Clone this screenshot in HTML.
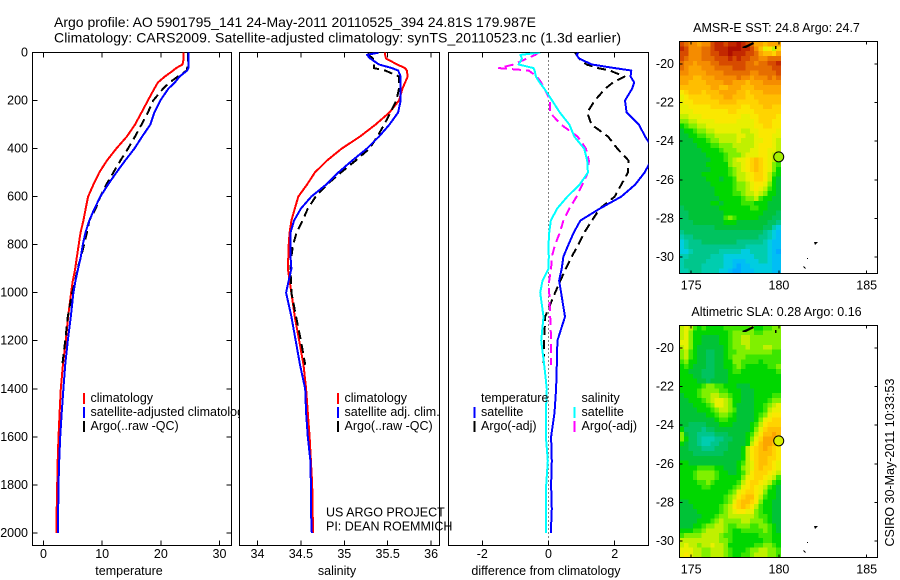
<!DOCTYPE html>
<html>
<head>
<meta charset="utf-8">
<title>Argo profile 5901795_141</title>
<style>
html,body{margin:0;padding:0;background:#fff;}
svg{display:block;}
text{font-family:"Liberation Sans",sans-serif;font-size:12.5px;fill:#000;}
text.title{font-size:14px;}
</style>
</head>
<body>
<svg id="chart" xmlns="http://www.w3.org/2000/svg" width="900" height="580" viewBox="0 0 900 580">
<rect x="0" y="0" width="900" height="580" fill="#fff"/>
<defs>
<clipPath id="clip-temp"><rect x="32.5" y="52.5" width="199" height="493"/></clipPath>
<clipPath id="clip-sal"><rect x="239.5" y="52.5" width="200" height="493"/></clipPath>
<clipPath id="clip-diff"><rect x="448.5" y="52.5" width="200" height="493"/></clipPath>
</defs>
<text class="title" x="54" y="27" textLength="482">Argo profile: AO 5901795_141 24-May-2011 20110525_394 24.81S 179.987E</text>
<text class="title" x="54" y="42.5" textLength="567">Climatology: CARS2009. Satellite-adjusted climatology: synTS_20110523.nc (1.3d earlier)</text>
<g id="panels"></g>
<g id="maps"></g>
<text x="326" y="516.5">US ARGO PROJECT</text>
<text x="326" y="530.5">PI: DEAN ROEMMICH</text>
<text transform="translate(894,546.5) rotate(-90)" x="0" y="0">CSIRO 30-May-2011 10:33:53</text>
</svg>
<script>
const depths=[0,10,25,50,65,75,100,125,150,200,250,300,350,400,450,500,550,600,650,700,750,800,850,900,950,1000,1100,1200,1300,1400,1500,1600,1700,1800,1900,2000];
const tempClimatology=[23.9,23.9,23.9,23.7,22.6,22.1,20.7,19.5,18.9,17.8,16.7,15.6,14.2,12.4,10.8,9.5,8.5,7.6,7.2,6.8,6.3,6.0,5.7,5.4,5.0,4.7,4.2,3.8,3.3,2.95,2.75,2.55,2.42,2.33,2.25,2.2];
const tempSatellite=[24.7,24.7,24.7,24.7,24.7,24.5,23.2,22.4,21.3,19.9,18.9,18.2,16.8,15.5,13.9,12.4,11.0,9.7,8.7,7.8,7.15,6.7,6.35,5.9,5.45,5.1,4.66,4.15,3.7,3.4,3.1,2.85,2.67,2.55,2.5,2.45];
const tempArgo=[24.6,24.6,24.6,24.6,24.5,24.4,22.9,21.5,20.4,18.7,17.8,16.7,15.6,14.4,13.1,11.9,10.7,9.7,8.9,7.8,7.4,6.9,6.4,5.8,5.4,4.9,4.15,3.7,3.2,null,null,null,null,null,null,null];
const salClimatology=[35.47,35.47,35.48,35.61,35.70,35.72,35.73,35.70,35.67,35.63,35.52,35.36,35.18,34.97,34.80,34.66,34.57,34.47,34.43,34.39,34.37,34.36,34.355,34.35,34.37,34.39,34.43,34.48,34.53,34.56,34.58,34.60,34.615,34.63,34.635,34.64];
const salSatellite=[35.40,35.26,35.30,35.40,35.55,35.62,35.65,35.65,35.65,35.65,35.62,35.52,35.40,35.26,35.09,34.93,34.79,34.62,34.50,34.42,34.38,34.38,34.38,34.39,34.36,34.33,34.39,34.44,34.49,34.55,34.56,34.58,34.61,34.615,34.615,34.625];
const salArgo=[35.28,35.28,35.33,35.34,35.34,35.47,35.63,35.63,35.63,35.60,35.53,35.46,35.38,35.29,35.13,34.96,34.80,34.67,34.58,34.52,34.45,34.41,34.39,34.38,34.385,34.39,34.445,34.50,34.55,null,null,null,null,null,null,null];
const diffTempSatellite=[0.90,0.85,0.92,1.31,2.0,2.5,2.48,2.59,2.53,2.31,2.36,2.73,2.92,3.15,3.1,2.9,2.62,2.2,1.55,0.96,0.76,0.60,0.45,0.40,0.32,0.38,0.5,0.27,0.25,0.23,0.18,0.08,0.1,0.08,0.1,0.07];
const diffTempArgo=[0.8,0.85,0.92,1.15,1.5,1.85,2.3,1.95,1.72,1.4,1.17,1.3,1.8,2.08,2.42,2.4,2.2,2.0,1.55,1.31,1.08,0.9,0.7,0.52,0.36,0.2,-0.1,-0.13,-0.15,null,null,null,null,null,null,null];
const diffSalSatellite=[-0.25,-0.85,-0.8,-0.9,-0.45,-0.42,-0.38,-0.27,-0.13,0.11,0.34,0.63,0.78,1.08,1.17,1.19,0.94,0.57,0.26,0.07,0.02,0,0.01,0,-0.18,-0.25,-0.15,-0.22,-0.13,-0.05,-0.08,-0.08,-0.02,-0.07,-0.07,-0.07];
const diffSalArgo=[-0.3,-0.4,-0.65,-1.05,-1.5,-0.6,-0.35,-0.22,-0.12,0.05,0.04,0.38,0.88,1.13,1.22,1.19,1.02,0.85,0.63,0.45,0.34,0.2,0.1,0.08,0.02,0.02,0.05,0.08,0.08,null,null,null,null,null,null,null];
const depthTicks=[0,200,400,600,800,1000,1200,1400,1600,1800,2000];
const tempTicks=[0,10,20,30];
const salTicks=[34,34.5,35,35.5,36];
const diffTicks=[-2,0,2];
const lonTicks=[175,180,185];
const latTicks=[-20,-22,-24,-26,-28,-30];
const argoLon=179.987;
const argoLat=-24.81;
const argoSstLevel=9.6;
const argoSlaLevel=10.6;
const sstGrid=[
[18,17,16,16,15,16,16,18,19,19,18,19,19,20,19,18,17,15,15,14,15,15,15],
[19,18,16,16,16,17,17,18,19,19,19,20,20,20,19,19,18,16,14,11,12,10,13],
[18,18,16,16,16,17,17,18,18,19,19,20,19,19,19,18,18,17,15,14,14,13,15],
[18,17,16,16,16,17,17,17,18,18,18,19,18,19,18,18,17,17,16,16,17,17,17],
[17,16,16,15,16,16,16,17,17,18,18,18,18,18,18,17,17,16,17,17,18,18,19],
[17,16,15,15,15,16,16,16,17,17,17,17,18,18,18,17,17,17,17,17,17,18,18],
[16,16,15,15,15,15,16,16,16,16,17,17,17,17,17,17,16,16,17,17,17,17,18],
[15,15,15,14,14,15,15,15,16,16,16,16,16,17,16,16,15,16,16,16,17,16,17],
[15,15,14,14,14,14,15,15,15,15,16,16,15,15,15,14,15,15,15,16,16,16,16],
[14,14,14,14,14,14,14,15,15,14,14,15,15,15,14,14,14,15,15,15,15,15,15],
[12,13,14,14,14,13,14,14,14,15,15,15,15,14,14,13,14,14,14,15,15,15,15],
[11,12,13,13,13,13,13,14,14,14,15,15,14,14,14,13,13,14,14,14,14,14,14],
[11,12,12,13,13,13,13,13,13,14,14,14,14,13,13,13,13,13,14,14,14,14,14],
[11,11,12,12,12,12,12,13,13,13,13,13,13,13,12,12,13,13,13,14,14,13,13],
[11,11,11,12,12,12,12,12,12,12,12,13,13,12,12,12,12,13,13,13,13,13,13],
[10,10,11,11,11,12,12,12,12,12,12,12,12,12,11,11,12,12,13,13,13,13,12],
[9,9,10,10,11,11,11,11,12,12,12,12,12,11,11,11,11,12,13,13,13,12,12],
[7,8,9,9,10,10,11,11,11,11,11,11,11,11,11,11,11,12,12,13,13,12,12],
[6,7,7,8,9,9,10,10,11,11,11,11,11,11,10,10,11,11,12,12,12,12,11],
[6,6,7,7,8,8,9,9,10,10,10,10,10,11,11,10,10,11,12,12,12,11,11],
[6,6,6,7,7,7,8,9,9,10,10,10,10,11,10,10,10,11,11,12,12,11,10],
[6,6,6,6,7,7,7,8,8,9,9,9,10,10,10,10,10,11,12,12,12,11,10],
[6,6,6,6,6,7,7,7,7,8,9,9,9,10,10,10,11,11,12,12,11,11,10],
[6,6,6,6,6,6,7,7,7,7,8,9,9,9,10,11,11,11,12,12,11,10,9],
[6,6,6,6,6,6,6,7,7,7,8,9,10,11,11,12,13,14,13,12,11,10,9],
[6,6,6,6,6,6,7,7,7,7,7,9,10,10,11,12,13,14,13,12,11,9,8],
[6,6,6,6,6,6,6,7,7,7,7,8,9,10,11,12,13,14,13,12,11,9,7],
[6,6,6,6,6,7,7,7,7,7,7,8,9,10,10,11,12,13,13,12,10,8,7],
[6,6,6,6,6,6,7,7,7,6,7,7,8,10,10,11,12,13,13,12,10,7,6],
[6,6,6,6,6,6,6,7,7,7,7,7,8,9,9,10,11,12,12,11,9,7,6],
[6,6,6,6,6,6,6,6,7,7,7,7,8,9,9,10,11,12,11,10,8,7,6],
[6,6,6,6,6,6,6,6,7,7,7,7,8,8,9,10,10,11,10,9,7,7,6],
[6,6,6,6,6,6,6,6,6,7,7,7,7,7,8,9,9,10,8,7,7,6,6],
[6,6,6,6,6,6,6,7,7,6,7,7,7,7,8,8,8,7,7,7,6,6,6],
[5,6,6,6,6,6,6,6,6,7,7,7,7,7,7,7,8,8,7,7,6,6,6],
[5,5,6,6,6,6,6,6,6,6,7,7,7,7,7,7,7,7,7,6,6,6,5],
[5,5,6,6,6,6,6,6,6,6,8,9,8,7,7,7,7,7,6,6,6,5,5],
[5,5,5,6,6,6,6,6,6,6,7,7,7,6,6,6,6,6,6,6,5,5,4],
[5,5,5,5,5,5,5,5,6,6,6,6,6,6,6,6,6,6,6,5,5,3,2],
[4,5,5,5,5,5,5,5,5,5,5,5,5,5,5,5,5,5,5,4,3,2,1],
[3,4,4,5,5,5,5,5,5,5,5,5,5,5,5,5,5,5,4,4,3,2,1],
[2,3,4,4,4,5,5,5,5,5,5,5,5,4,4,4,4,4,4,3,2,1,1],
[2,3,4,4,4,4,4,4,4,4,4,4,4,4,4,3,3,3,3,3,2,1,1],
[2,2,3,4,4,4,4,4,4,3,3,3,3,3,2,2,3,3,3,3,2,1,0],
[3,3,4,4,4,4,4,3,3,3,2,2,2,2,2,2,2,3,3,3,2,1,1],
[3,4,4,4,4,4,3,3,3,3,2,2,1,1,1,2,2,2,3,3,2,1,1],
[3,4,4,4,4,3,3,3,3,3,2,2,1,0,1,1,2,2,2,2,2,1,1],
[3,3,4,4,4,3,3,3,3,2,2,1,0,0,1,1,1,2,2,2,2,1,1]
];
const slaGrid=[
[10,11,10,8,7,8,7,7,7,7,8,8,8,8,8,8,9,7,7,8,8,9,9],
[10,11,9,7,7,7,7,7,7,7,7,8,9,9,9,9,9,8,8,9,9,9,9],
[10,11,9,7,7,6,6,6,6,7,7,8,9,9,10,10,9,9,9,9,9,9,9],
[11,11,9,7,7,6,6,6,6,7,7,8,9,9,10,10,9,9,9,9,9,9,9],
[10,11,9,7,6,6,6,6,6,6,7,8,9,9,9,10,9,9,9,10,10,9,9],
[9,10,8,7,6,6,5,5,6,6,7,8,8,9,9,9,9,9,9,9,9,8,8],
[9,10,8,7,6,6,5,5,6,6,7,8,9,9,9,8,8,8,8,8,8,8,8],
[8,9,7,7,6,6,5,5,6,6,7,7,9,9,8,8,8,8,7,8,8,8,8],
[7,8,7,6,6,6,5,5,6,6,7,7,8,9,8,7,7,7,7,7,8,8,9],
[7,7,6,6,6,5,5,5,6,6,6,7,8,8,7,7,7,7,7,7,7,7,8],
[7,7,7,6,6,5,5,5,6,6,6,7,7,7,7,7,7,7,7,7,7,7,7],
[7,7,7,7,6,6,5,6,6,6,6,7,7,7,7,7,7,7,7,7,7,7,7],
[7,7,7,7,7,8,9,9,8,8,7,7,7,6,6,6,7,7,7,7,7,7,7],
[7,7,7,7,8,9,9,9,9,8,8,7,7,7,6,6,6,7,7,7,7,7,7],
[6,7,7,7,8,9,9,10,10,9,9,8,7,7,6,6,6,7,7,7,7,8,8],
[6,6,7,7,7,8,9,10,11,11,10,9,7,7,6,6,6,7,7,7,8,9,9],
[6,6,6,7,7,7,8,9,11,11,10,9,7,6,6,6,6,7,7,8,9,10,11],
[6,6,6,6,7,7,7,8,9,10,10,9,8,6,6,6,6,7,7,8,10,11,11],
[6,6,6,6,6,6,7,7,8,9,9,8,7,6,6,6,6,7,8,9,11,12,12],
[6,6,6,6,6,6,6,6,7,8,8,7,7,6,6,6,6,7,9,11,12,13,13],
[6,6,5,5,5,5,6,6,6,7,7,7,6,6,6,6,7,8,10,12,13,13,13],
[7,5,5,5,5,4,5,5,6,6,6,6,6,6,6,6,7,9,11,13,14,14,14],
[9,6,5,5,4,4,4,4,5,5,5,6,6,6,6,7,8,10,12,14,14,15,14],
[9,7,5,5,4,3,3,3,4,4,5,5,6,6,6,7,9,11,13,15,15,15,14],
[7,6,5,5,4,3,3,4,4,5,5,6,6,6,6,7,10,12,14,15,15,14,13],
[6,6,5,5,5,4,4,4,5,5,5,6,6,6,7,10,12,13,14,15,14,13,12],
[6,6,6,5,5,5,5,5,5,5,6,6,6,6,7,10,12,13,14,14,14,13,12],
[6,6,6,6,6,6,6,6,6,6,6,6,6,6,7,10,12,13,14,14,13,13,12],
[7,7,6,6,6,6,6,6,6,6,6,6,6,7,8,10,11,13,14,14,13,12,11],
[7,7,7,7,8,8,8,8,7,7,6,6,6,7,9,10,11,13,14,13,13,12,11],
[7,7,7,8,9,9,9,9,8,7,7,6,6,7,8,10,12,13,13,13,12,11,10],
[7,7,7,8,9,9,9,9,8,7,7,7,7,7,9,11,12,13,13,12,11,10,8],
[7,7,7,7,8,8,9,8,7,7,7,7,7,8,10,12,13,13,12,11,10,8,7],
[7,7,7,7,7,8,8,7,7,7,7,7,8,9,11,12,13,12,11,10,8,7,6],
[7,7,7,7,7,7,7,7,7,7,7,8,9,11,12,13,13,12,11,9,7,7,6],
[7,7,7,7,7,7,7,7,7,7,8,9,10,12,13,14,14,12,10,8,7,7,6],
[6,6,7,7,7,7,7,7,7,7,8,9,11,13,14,14,13,12,9,7,7,6,6],
[6,6,6,7,7,7,7,7,7,8,9,10,12,13,14,13,12,10,8,7,7,6,6],
[6,6,6,6,7,7,7,7,7,8,9,10,11,12,12,11,11,9,8,7,7,6,6],
[6,6,6,6,6,7,7,7,8,9,9,10,10,10,10,10,10,9,8,8,7,6,6],
[6,6,6,6,7,7,7,8,9,10,9,9,9,9,10,10,9,9,9,8,7,6,6],
[6,6,6,7,7,8,9,9,10,10,9,8,8,9,9,9,8,8,9,9,8,7,6],
[7,7,7,8,8,9,10,10,10,10,9,8,7,7,8,8,8,8,8,9,8,7,6],
[8,9,9,9,9,10,10,10,10,9,8,8,7,7,7,7,7,7,8,8,8,7,7],
[10,10,10,10,10,10,10,10,10,9,9,8,7,7,7,7,7,7,7,8,8,7,7],
[10,11,10,10,9,10,10,11,10,10,9,7,7,7,7,7,7,8,8,9,9,8,7],
[11,11,11,10,10,9,9,10,10,10,9,8,7,7,7,8,9,9,10,10,9,9,8],
[11,12,11,10,10,9,9,10,10,10,9,8,7,7,8,8,9,10,10,10,9,9,8]
];

const NS='http://www.w3.org/2000/svg';
const palette=[[0,170,255],[0,190,245],[0,205,225],[0,205,175],[0,198,140],[0,195,95],[0,195,55],[0,215,0],[60,230,0],[128,240,0],[192,240,0],[232,240,0],[250,232,0],[255,212,0],[255,190,0],[252,165,0],[245,140,0],[230,110,0],[215,75,0],[195,40,0],[175,15,0]];
function colorFor(v){
  const c=Math.max(0,Math.min(palette.length-1,v));
  const i=Math.min(palette.length-2,Math.floor(c));
  const f=c-i;
  const m=[0,1,2].map(k=>Math.round(palette[i][k]+(palette[i+1][k]-palette[i][k])*f));
  return 'rgb('+m.join(',')+')';
}
function mk(tag,parent,attrs){
  const el=document.createElementNS(NS,tag);
  for(const k in attrs){el.setAttribute(k,attrs[k]);}
  parent.appendChild(el);
  return el;
}
const panels=document.getElementById('panels');
const maps=document.getElementById('maps');
const depthY=d=>52.5+d*0.2402;
const tempX=t=>43.5+t*5.867;
const salX=s=>257.5+(s-34)*86.8;
const diffX=v=>548.5+v*33.1;

function tick(g,x1,y1,x2,y2){
  const t=mk('line',g,{x1:x1,y1:y1,x2:x2,y2:y2,stroke:'#000','stroke-width':1,'shape-rendering':'crispEdges'});
  
  
}
function label(g,x,y,txt,anchor){
  const t=mk('text',g,{x:x,y:y,'text-anchor':anchor});
  t.textContent=txt;
  
  
}
function profilePanel(name,left,right,xFn,ticks,title,titleX,clip,labelDepth){
  const g=mk('g',panels,{});
  
  
  const bg=mk('rect',g,{x:left,y:52.5,width:right-left,height:493,fill:'#fff',stroke:'#000','stroke-width':1,'shape-rendering':'crispEdges'});
  
  
  ticks.forEach(v=>{
    const x=xFn(v);
    tick(g,x,52.5,x,57.5);
    tick(g,x,540.5,x,545.5);
    label(g,x,558,String(v),'middle');
  });
  if(labelDepth){
    depthTicks.forEach(d=>{
      const y=depthY(d);
      tick(g,left,y,left+5,y);
      tick(g,right-5,y,right,y);
      label(g,28,y+4,String(d),'end');
    });
  }
  const t=mk('text',g,{x:titleX,y:575,'text-anchor':'middle'});
  t.textContent=title;
  
  
  const inner=mk('g',g,{'clip-path':'url(#'+clip+')'});
  
  
  return {g:g,inner:inner};
}
function series(parent,values,xFn,color,width,dash,name){
  let d='';
  let pen=false;
  values.forEach((v,i)=>{
    if(v===null){pen=false;return;}
    d+=(pen?'L':'M')+xFn(v).toFixed(1)+' '+depthY(depths[i]).toFixed(1);
    pen=true;
  });
  const p=mk('path',parent,{d:d,fill:'none',stroke:color,'stroke-width':width,'stroke-linejoin':'round','shape-rendering':'crispEdges'});
  if(dash){p.setAttribute('stroke-dasharray',dash);}
  
  
}
function legendRow(g,barX,textX,y,color,txt,name){
  if(color){
    const b=mk('rect',g,{x:barX,y:y-9,width:2,height:11,fill:color,'shape-rendering':'crispEdges'});
    
    
  }
  const t=mk('text',g,{x:textX,y:y});
  t.textContent=txt;
  
  
}

const p1=profilePanel('temperature',32.5,231.5,tempX,tempTicks,'temperature',129,'clip-temp',true);
series(p1.inner,tempClimatology,tempX,'#ff0000',2,null,'temperature-climatology-line');
series(p1.inner,tempArgo,tempX,'#000000',2,'9 5','temperature-argo-line');
series(p1.inner,tempSatellite,tempX,'#0000ff',2,null,'temperature-satellite-line');
legendRow(p1.g,83,90.5,402,'#ff0000','climatology','temperature-legend-climatology');
legendRow(p1.g,83,90.5,416,'#0000ff','satellite-adjusted climatology','temperature-legend-satellite');
legendRow(p1.g,83,90.5,430,'#000000','Argo(..raw -QC)','temperature-legend-argo');

const p2=profilePanel('salinity',239.5,439.5,salX,salTicks,'salinity',337,'clip-sal',false);
series(p2.inner,salClimatology,salX,'#ff0000',2,null,'salinity-climatology-line');
series(p2.inner,salArgo,salX,'#000000',2,'9 5','salinity-argo-line');
series(p2.inner,salSatellite,salX,'#0000ff',2,null,'salinity-satellite-line');
legendRow(p2.g,337,344.5,402,'#ff0000','climatology','salinity-legend-climatology');
legendRow(p2.g,337,344.5,416,'#0000ff','satellite adj. clim.','salinity-legend-satellite');
legendRow(p2.g,337,344.5,430,'#000000','Argo(..raw -QC)','salinity-legend-argo');

const p3=profilePanel('difference',448.5,648.5,diffX,diffTicks,'difference from climatology',546,'clip-diff',false);
const zero=mk('line',p3.inner,{x1:diffX(0),y1:52.5,x2:diffX(0),y2:545.5,stroke:'#000','stroke-width':1,'stroke-dasharray':'1 3','shape-rendering':'crispEdges'});


series(p3.inner,diffTempArgo,diffX,'#000000',2,'9 5','difference-temperature-argo-line');
series(p3.inner,diffTempSatellite,diffX,'#0000ff',2,null,'difference-temperature-satellite-line');
series(p3.inner,diffSalArgo,diffX,'#ff00ff',2,'9 5','difference-salinity-argo-line');
series(p3.inner,diffSalSatellite,diffX,'#00ffff',2,null,'difference-salinity-satellite-line');
legendRow(p3.g,0,481,402,null,'temperature','difference-legend-temperature-heading');
legendRow(p3.g,473.5,481,416,'#0000ff','satellite','difference-legend-temperature-satellite');
legendRow(p3.g,473.5,481,430,'#000000','Argo(-adj)','difference-legend-temperature-argo');
legendRow(p3.g,0,581.5,402,null,'salinity','difference-legend-salinity-heading');
legendRow(p3.g,573.5,581.5,416,'#00ffff','satellite','difference-legend-salinity-satellite');
legendRow(p3.g,573.5,581.5,430,'#ff00ff','Argo(-adj)','difference-legend-salinity-argo');

const lonX=lon=>691.2+(lon-175)*17.55;
const CELL_DEG=0.25;
const GRID_LON0=174.34;
const GRID_LAT0=-18.84;
function mapPanel(name,top,grid,title,level){
  const latY=lat=>top+22.4+(-20-lat)*19.32;
  const g=mk('g',maps,{});
  
  
  const bg=mk('rect',g,{x:679.5,y:top,width:198,height:232,fill:'#fff'});
  
  
  grid.forEach((row,r)=>{
    row.forEach((v,c)=>{
      const x0=lonX(GRID_LON0+c*CELL_DEG);
      const x1=lonX(GRID_LON0+(c+1)*CELL_DEG);
      const y0=latY(GRID_LAT0-r*CELL_DEG);
      const y1=latY(GRID_LAT0-(r+1)*CELL_DEG);
      const cell=mk('rect',g,{x:x0.toFixed(2),y:y0.toFixed(2),width:(x1-x0+0.3).toFixed(2),height:(y1-y0+0.3).toFixed(2),fill:colorFor(v),'shape-rendering':'crispEdges'});
      
      
    });
  });
  const off=top-41.5;
  const coast=mk('path',g,{d:'M742 47L747 45L749 44L753 42L754 44L750 46L746 48L743 48Z M775 46h1.5v3h-1.5Z M814 242h4l-3 3Z M807 258l1 0l0 1l-1 0Z M803 266l2 1l1 2l-2 -1Z',transform:'translate(0,'+off+')',fill:'#000'});
  
  
  const box=mk('rect',g,{x:679.5,y:top,width:198,height:232,fill:'none',stroke:'#000','stroke-width':1,'shape-rendering':'crispEdges'});
  
  
  lonTicks.forEach(lon=>{
    const x=lonX(lon);
    tick(g,x,top,x,top+3);
    tick(g,x,top+229,x,top+232);
    label(g,x,top+248,String(lon),'middle');
  });
  latTicks.forEach(lat=>{
    const y=latY(lat);
    tick(g,679.5,y,682.5,y);
    tick(g,874.5,y,877.5,y);
    label(g,674,y+4,String(lat),'end');
  });
  const t=mk('text',g,{x:776.5,y:top-9.5,'text-anchor':'middle'});
  t.textContent=title;
  
  
  const m=mk('circle',g,{cx:lonX(argoLon),cy:latY(argoLat),r:5,fill:colorFor(level),stroke:'#000','stroke-width':1});
  
  
}
mapPanel('sst',41.5,sstGrid,'AMSR-E SST: 24.8 Argo: 24.7',argoSstLevel);
mapPanel('sla',325.5,slaGrid,'Altimetric SLA: 0.28 Argo: 0.16',argoSlaLevel);
</script>
</body>
</html>
